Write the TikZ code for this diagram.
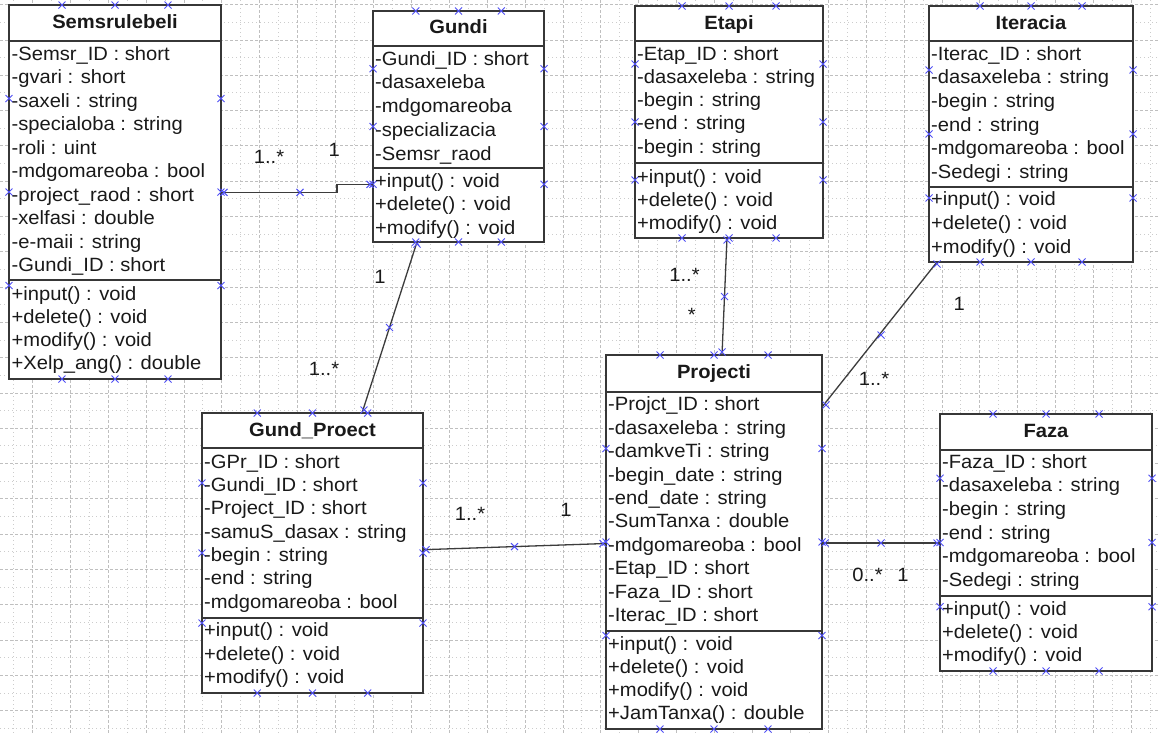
\documentclass[tikz,border=0pt]{standalone}
\usepackage{fontspec}
\setmainfont{Liberation Sans}[FakeStretch=1.05]
\definecolor{boxgray}{RGB}{55,55,55}
\definecolor{linegray}{RGB}{60,60,60}
\definecolor{txtgray}{RGB}{25,25,25}
\definecolor{cpblue}{RGB}{80,80,245}
\tikzset{
  boxline/.style={draw=boxgray, line width=1.4pt},
  classbox/.style={draw=boxgray, line width=1.4pt, fill=white, inner sep=0pt, outer sep=0pt, anchor=north west},
  rowtext/.style={anchor=base west, inner sep=0pt, font=\fontsize{19.2}{22}\selectfont, text=txtgray},
  titletext/.style={anchor=base, inner sep=0pt, font=\fontsize{19.2}{22}\selectfont\bfseries, text=txtgray},
  conn/.style={draw=linegray, line width=1.3pt},
  lbl/.style={anchor=base, inner sep=0pt, font=\fontsize{19.2}{22}\selectfont, text=txtgray},
  majorgrid/.style={draw=gray!50, line width=0.8pt, dash pattern=on 3pt off 2pt},
  minorgrid/.style={draw=gray!40, line width=0.8pt, dash pattern=on 1pt off 3pt},
  cpx/.pic={\draw[draw=cpblue, line width=1pt] (-3.5,-3.5)--(3.5,3.5) (-3.5,3.5)--(3.5,-3.5);}
}
\newcommand\umlbox[7]{%
  \node[classbox, minimum width={#4-#2}, minimum height={#7-#3}] (#1) at (#2,#3) {};
  \draw[boxline] (#2,#5) -- (#4,#5) (#2,#6) -- (#4,#6);
  \foreach \f in {0.25,0.5,0.75}{
    \path ({#2+\f*(#4-#2)},#3) pic{cpx} ({#2+\f*(#4-#2)},#7) pic{cpx}
          (#2,{#3+\f*(#7-#3)}) pic{cpx} (#4,{#3+\f*(#7-#3)}) pic{cpx};
  }}
\newcommand\rowlist[5]{\foreach \t [count=\i from 0] in {#5}{\node[rowtext] (#1\i) at (#2,{#3+\i*#4}) {\t};}}
\begin{document}
\begin{tikzpicture}[x=1pt,y=-1pt]
\useasboundingbox (0,0) rectangle (1160,734);
\fill[white] (0,0) rectangle (1160,734);
% grid
\foreach \k in {-1,...,29}{\draw[minorgrid] ({51.25+37.9*\k},0) -- ({51.25+37.9*\k},734);}
\foreach \k in {0,...,20}{\draw[minorgrid] (0,{22.25+35.3*\k}) -- (1160,{22.25+35.3*\k});}
\foreach \k in {0,...,29}{\draw[majorgrid] ({32.3+37.9*\k},0) -- ({32.3+37.9*\k},734);}
\foreach \k in {0,...,20}{\draw[majorgrid] (0,{4.6+35.3*\k}) -- (1160,{4.6+35.3*\k});}

% Semsrulebeli
\umlbox{sem}{9}{5}{221}{41}{280}{379}
\node[titletext] (semt) at (115,28.5) {Semsrulebeli};
\rowlist{sema}{11.5}{60}{23.55}{-Semsr\_ID : short,-gvari : short,-saxeli : string,-specialoba : string,-roli : uint,-mdgomareoba : bool,-project\_raod : short,-xelfasi : double,-e-maii : string,-Gundi\_ID : short}
\rowlist{semm}{11.5}{300}{23.3}{+input() : void,+delete() : void,+modify() : void,+Xelp\_ang() : double}

% Gundi
\umlbox{gun}{373}{11}{544}{46}{168}{242}
\node[titletext] (gunt) at (458.5,33.5) {Gundi};
\rowlist{guna}{375}{65}{23.75}{-Gundi\_ID : short,-dasaxeleba,-mdgomareoba,-specializacia,-Semsr\_raod}
\rowlist{gunm}{375}{187.3}{23.4}{+input() : void,+delete() : void,+modify() : void}

% Etapi
\umlbox{eta}{635}{6}{823}{41}{163}{238}
\node[titletext] (etat) at (729,29.3) {Etapi};
\rowlist{etaa}{637}{60}{23.3}{-Etap\_ID : short,-dasaxeleba : string,-begin : string,-end : string,-begin : string}
\rowlist{etam}{637}{183.3}{23.3}{+input() : void,+delete() : void,+modify() : void}

% Iteracia
\umlbox{ite}{929}{6}{1133}{41}{187}{262}
\node[titletext] (itet) at (1031,29.3) {Iteracia};
\rowlist{itea}{931}{60}{23.7}{-Iterac\_ID : short,-dasaxeleba : string,-begin : string,-end : string,-mdgomareoba : bool,-Sedegi : string}
\rowlist{item}{931}{205.7}{23.8}{+input() : void,+delete() : void,+modify() : void}

% Gund_Proect
\umlbox{gp}{202}{413}{423}{448}{618}{693}
\node[titletext] (gpt) at (312.5,436) {Gund\_Proect};
\rowlist{gpa}{204}{468.3}{23.33}{-GPr\_ID : short,-Gundi\_ID : short,-Project\_ID : short,-samuS\_dasax : string,-begin : string,-end : string,-mdgomareoba : bool}
\rowlist{gpm}{204}{636.7}{23.3}{+input() : void,+delete() : void,+modify() : void}

% Projecti
\umlbox{pro}{606}{355}{822}{392}{631}{729}
\node[titletext] (prot) at (714,378.5) {Projecti};
\rowlist{proa}{608}{410.7}{23.44}{-Projct\_ID : short,-dasaxeleba : string,-damkveTi : string,-begin\_date : string,-end\_date : string,-SumTanxa : double,-mdgomareoba : bool,-Etap\_ID : short,-Faza\_ID : short,-Iterac\_ID : short}
\rowlist{prom}{608}{650}{23.33}{+input() : void,+delete() : void,+modify() : void,+JamTanxa() : double}

% Faza
\umlbox{faz}{940}{414}{1152}{450}{596}{671}
\node[titletext] (fazt) at (1046,437.3) {Faza};
\rowlist{faza}{942}{468.3}{23.67}{-Faza\_ID : short,-dasaxeleba : string,-begin : string,-end : string,-mdgomareoba : bool,-Sedegi : string}
\rowlist{fazm}{942}{615}{23.3}{+input() : void,+delete() : void,+modify() : void}

% connectors
\draw[conn] (sem.east |- 0,192.3) -| (337,188) |- (gun.west |- 0,184.3);
\draw[conn] (gun.south -| 417,0) -- (gp.north -| 362,0);
\draw[conn] (eta.south -| 727,0) -- (pro.north -| 722,0);
\draw[conn] (ite.south -| 937,0) -- (pro.east |- 0,407);
\draw[conn] (gp.east |- 0,549.7) -- (pro.west |- 0,543.5);
\draw[conn] (pro.east |- 0,543) -- (faz.west |- 0,543);

% connector points
\path (224,192.3) pic{cpx} (300,192.3) pic{cpx} (370,184.3) pic{cpx}
      (417,244) pic{cpx} (389.5,327.5) pic{cpx} (364,410) pic{cpx}
      (727,240) pic{cpx} (724.5,296.5) pic{cpx} (722,352) pic{cpx}
      (937,264) pic{cpx} (881,335) pic{cpx} (826,405) pic{cpx}
      (426,549.7) pic{cpx} (514.5,546.6) pic{cpx} (603,543.5) pic{cpx}
      (825,543) pic{cpx} (881,543) pic{cpx} (937,543) pic{cpx};

% multiplicities
\node[lbl] (l1) at (269,163.3) {1..*};
\node[lbl] (l2) at (334.3,156) {1};
\node[lbl] (l3) at (380,283.3) {1};
\node[lbl] (l4) at (324,375) {1..*};
\node[lbl] (l5) at (684.5,281.7) {1..*};
\node[lbl] (l6) at (691.7,321.5) {*};
\node[lbl] (l7) at (959.3,310.7) {1};
\node[lbl] (l8) at (874,385) {1..*};
\node[lbl] (l9) at (470,520.7) {1..*};
\node[lbl] (l10) at (566,516.7) {1};
\node[lbl] (l11) at (867.5,581.7) {0..*};
\node[lbl] (l12) at (903,581.7) {1};
\end{tikzpicture}
\end{document}
